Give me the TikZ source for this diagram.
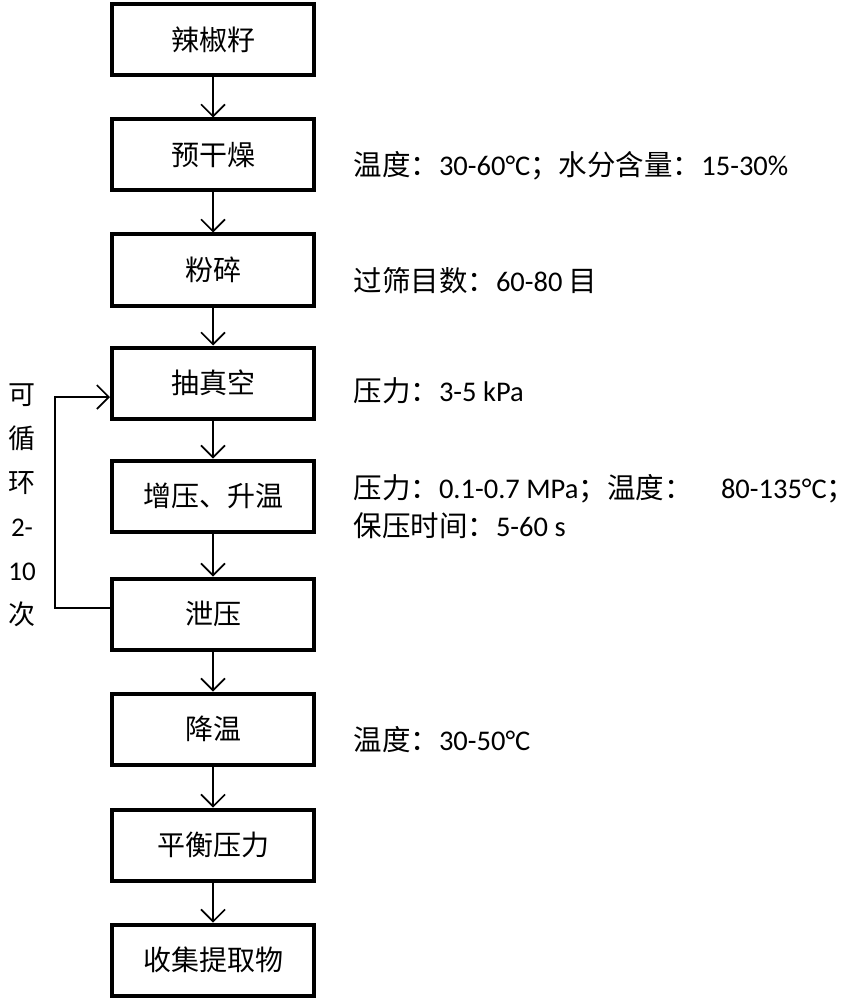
\documentclass[tikz,border=0pt]{standalone}
\usepackage{fontspec}
\setmainfont{Carlito}
\newfontfamily\cjk{Noto Sans CJK SC}
\usetikzlibrary{arrows.meta}
\begin{document}
\begin{tikzpicture}[x=1pt,y=-1pt,
  stepbox/.style={draw,line width=4pt,minimum width=202pt,minimum height=71pt,inner sep=0pt,font=\fontsize{28}{32}\selectfont\cjk},
  side/.style={anchor=west,font=\fontsize{28.5}{38}\selectfont,align=left},
  arr/.style={-{Straight Barb[length=12pt,width=24pt,line width=1.6pt]},line width=1.4pt}]
\useasboundingbox (0,0) rectangle (863,1000);
\foreach \n/\t/\y in {a/辣椒籽/40,b/预干燥/155,c/粉碎/270,d/抽真空/383,e/增压、升温/496,f/泄压/614,g/降温/729,h/平衡压力/845,i/收集提取物/960}
  \node[stepbox] (\n) at (213,\y) {\t};
\foreach \p/\q in {a/b,b/c,c/d,d/e,e/f,f/g,g/h,h/i}
  \draw[arr] (\p.south) -- (\q.north);
\coordinate (l1) at (55,608);
\coordinate (l2) at (55,397);
\draw[arr] (l1 -| f.west) -- (l1) -- (l2) -- (l2 -| d.west);
\node[font=\fontsize{27}{44}\selectfont,align=center] at (22,505) {{\cjk 可}\\{\cjk 循}\\{\cjk 环}\\2-\\10\\{\cjk 次}};
\node[side] at (350,166) {{\cjk 温度：}30-60°C{\cjk ；水分含量：}15-30\%};
\node[side] at (350,281) {{\cjk 过筛目数：}60-80 {\cjk 目}};
\node[side] at (350,391) {{\cjk 压力：}3-5 kPa};
\node[side] at (350,507) {{\cjk 压力：}0.1-0.7 MPa{\cjk ；温度：}\quad 80-135°C{\cjk ；}\\{\cjk 保压时间：}5-60 s};
\node[side] at (350,740) {{\cjk 温度：}30-50°C};
\end{tikzpicture}
\end{document}
